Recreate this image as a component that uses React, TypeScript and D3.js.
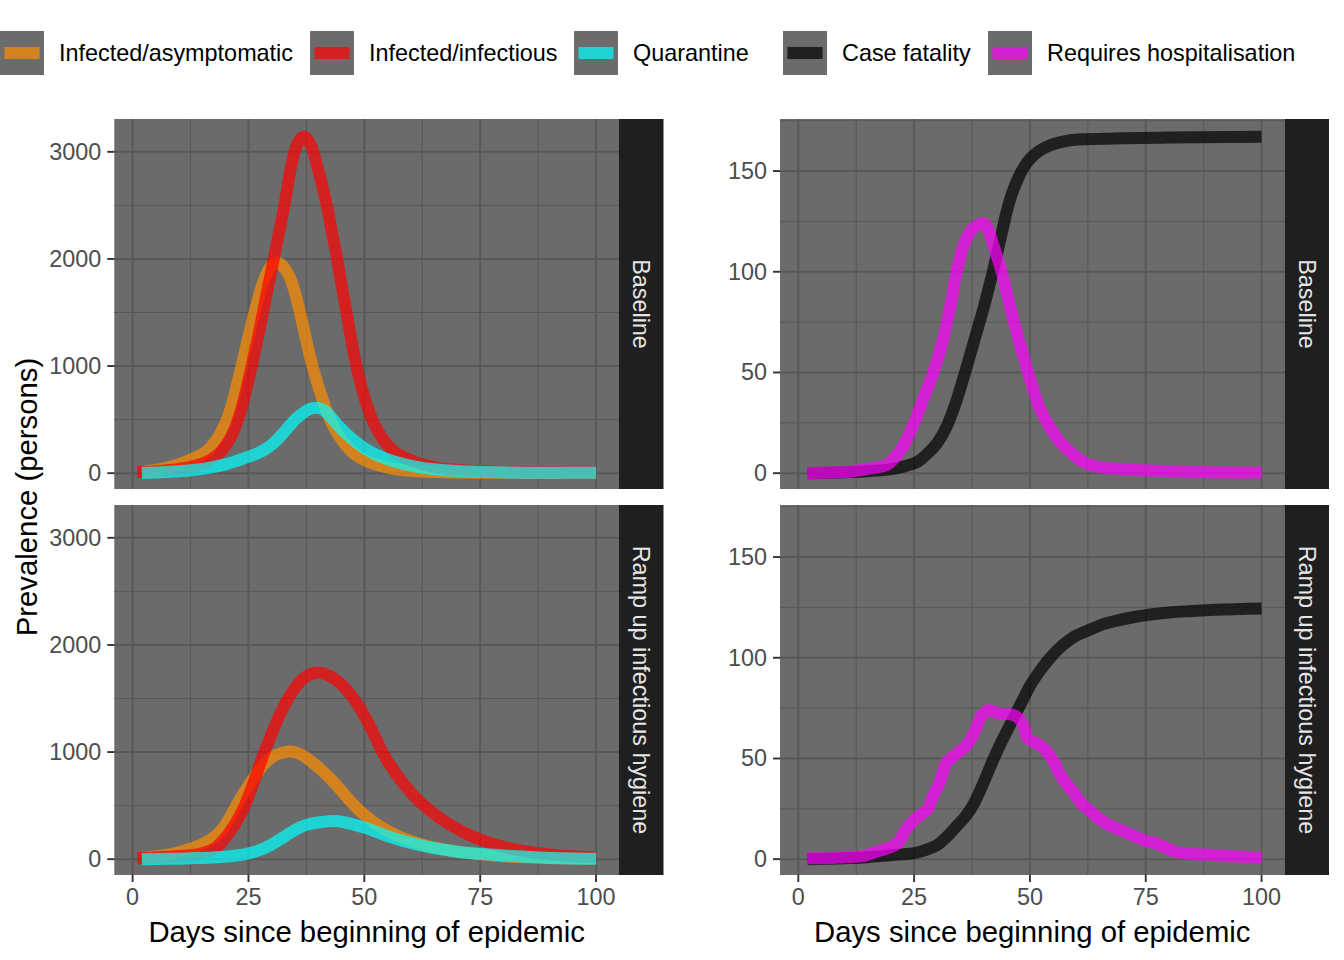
import React from "react";
import * as d3 from "d3";

// ---------- data ----------
const scenarios = ["Baseline", "Ramp up infectious hygiene"];
const leftSeries = ["Infected/asymptomatic", "Infected/infectious", "Quarantine"];
const rightSeries = ["Case fatality", "Requires hospitalisation"];
const xTicks = [0, 25, 50, 75, 100];
const leftYTicks = [0, 1000, 2000, 3000];
const rightYTicks = [0, 50, 100, 150];
const dayRange = [1, 100];

type Pt = [number, number];

// Baseline
const baseAsym: Pt[] = [[2,12],[5,30],[8,58],[10,85],[12,118],[14,155],[16,205],[18,305],[20,465],[21,580],[22,730],[23,910],[24,1090],[25,1270],[26,1450],[27,1610],[28,1760],[29,1870],[30,1940],[31,1965],[32,1950],[33,1900],[34,1820],[35,1690],[36,1520],[37,1330],[38,1140],[39,970],[40,820],[41,690],[42,565],[43,465],[44,385],[46,260],[48,175],[50,122],[52,88],[55,52],[60,22],[70,6],[80,3],[100,2]];
const baseInf: Pt[] = [[1,10],[4,15],[8,30],[12,55],[15,90],[17,130],[19,200],[21,320],[23,530],[25,870],[26,1060],[27,1260],[28,1470],[29,1690],[30,1900],[31,2120],[32,2330],[33,2560],[34,2820],[35,3010],[36,3110],[37,3140],[38,3100],[39,3000],[40,2840],[41,2670],[42,2480],[43,2250],[44,2030],[45,1780],[46,1540],[47,1290],[48,1060],[49,870],[50,710],[51,580],[52,470],[54,320],[56,220],[58,160],[60,120],[62,90],[66,50],[70,30],[80,12],[90,8],[100,6]];
const baseQuar: Pt[] = [[2,2],[6,8],[10,18],[14,35],[17,55],[20,82],[22,108],[24,138],[26,168],[28,208],[30,265],[32,350],[34,450],[35,498],[37,568],[38,595],[39,607],[40,608],[41,596],[42,560],[43,512],[45,415],[47,333],[49,265],[51,208],[54,147],[57,102],[61,62],[65,37],[70,20],[80,8],[100,4]];
const baseFatal: Pt[] = [[2,0],[10,0.5],[15,1],[20,2],[23,3.5],[26,6],[28,10],[30,15],[32,23],[34,35],[36,50],[37,58],[38,66],[39,74],[40,82],[41,91],[42,100],[43,110],[44,120],[45,130],[46,138],[47,144],[48,149],[49,153],[50,156],[52,160],[54,162.5],[56,164],[58,165],[62,165.8],[70,166.3],[80,166.6],[100,167]];
const baseHosp: Pt[] = [[2,0],[8,0.5],[12,1],[16,2.5],[19,4],[21,8],[23,15],[25,25],[27,37],[29,49],[31,64],[33,85],[34,98],[36,115],[38,122],[40,124],[41,121],[42,114],[44,99],[46,80],[48,63],[50,47],[52,33],[54,24],[56,17],[58,12],[60,8],[62,5],[65,3],[70,2],[80,1],[90,0.5],[100,0.3]];

// Ramp up infectious hygiene
const rampAsym: Pt[] = [[2,8],[5,25],[9,55],[12,90],[15,140],[18,220],[20,320],[22,470],[24,620],[26,750],[28,870],[30,950],[32,990],[34,1005],[36,985],[38,930],[40,860],[42,780],[44,690],[46,590],[48,495],[50,415],[52,345],[55,265],[58,203],[62,142],[66,100],[70,70],[75,45],[80,28],[90,12],[100,6]];
const rampInf: Pt[] = [[1,8],[5,15],[10,30],[13,40],[15,55],[18,110],[20,200],[22,320],[24,480],[26,700],[28,950],[30,1170],[32,1370],[34,1530],[36,1650],[38,1720],[40,1742],[42,1720],[44,1670],[46,1590],[48,1480],[50,1340],[52,1170],[53,1080],[54,990],[56,850],[58,730],[60,625],[62,535],[65,425],[68,335],[71,260],[74,200],[78,140],[82,95],[86,65],[90,45],[95,28],[100,18]];
const rampQuar: Pt[] = [[2,0],[8,3],[14,10],[18,18],[21,28],[24,45],[26,65],[28,95],[30,138],[32,190],[34,245],[36,295],[38,326],[40,342],[42,353],[44,356],[46,342],[48,320],[50,295],[52,265],[55,215],[58,175],[62,130],[66,96],[70,70],[75,50],[80,35],[85,22],[90,12],[95,6],[100,3]];
const rampFatal: Pt[] = [[2,0],[10,0.5],[15,1],[20,2],[25,3],[28,5],[30,7],[32,11],[34,16],[36,21],[38,28],[40,38],[42,49],[44,59],[46,68],[48,77],[50,86],[52,93],[54,99],[56,104],[58,108],[60,111],[62,113],[65,116],[68,118],[72,120],[76,121.5],[80,122.5],[85,123.2],[90,123.8],[100,124.5]];
const rampHosp: Pt[] = [[2,0.5],[6,0.5],[10,1],[14,1.5],[16,3],[18,4.5],[20,6],[21.5,8],[23,14],[25,19.5],[27,23],[28,25],[29,31],[30.5,38],[32,48],[33.5,51],[35,54],[36.5,57],[38,63],[39.5,71],[41,74],[42.5,73],[44,72],[45.5,72],[47,71],[48.5,67],[49.5,60],[51,58],[53,55],[55,49],[56.5,42],[58,37],[59.5,33],[61,28],[63,24],[65,20],[67,17],[69,15],[71,13],[73,11],[75,9],[77,8],[79,6],[81,4],[83,3],[86,2.5],[90,2],[94,1.5],[100,0.5]];

const leftData: Pt[][][] = [
  [baseAsym, baseInf, baseQuar],
  [rampAsym, rampInf, rampQuar],
];
const rightData: Pt[][][] = [
  [baseFatal, baseHosp],
  [rampFatal, rampHosp],
];

// ---------- style ----------
const seriesColor: Record<string, string> = {
  "Infected/asymptomatic": "#ff8c00",
  "Infected/infectious": "#ff0000",
  Quarantine: "#00ffff",
  "Case fatality": "#000000",
  "Requires hospitalisation": "#ff00ff",
};
const FONT = "'Liberation Sans', Arial, Helvetica, sans-serif";
const PANEL_BG = "#6b6b6b";
const GRID = "#585858";
const STRIP_BG = "#1f1f1f";
const LINE_W = 12;
const ALPHA = 0.7;
const BASE = 29.3;
const SMALL = 23.4;

const colL = { x0: 114.3, x1: 619, s1: 663.5 };
const colR = { x0: 780, x1: 1284.5, s1: 1329 };
const rows = [
  { y0: 119, y1: 489 },
  { y0: 505, y1: 875 },
];

function expand(lo: number, hi: number): [number, number] {
  const e = (hi - lo) * 0.05;
  return [lo - e, hi + e];
}

function minorOf(ticks: number[], dom: [number, number]) {
  const step = ticks[1] - ticks[0];
  const all = [ticks[0] - step / 2, ...ticks.map((t) => t + step / 2)];
  return all.filter((v) => v >= dom[0] && v <= dom[1]);
}

type Col = { x0: number; x1: number; s1: number };
type Row = { y0: number; y1: number };

function Panel(props: {
  col: Col;
  row: Row;
  xDom: [number, number];
  yDom: [number, number];
  yTicks: number[];
  names: string[];
  data: Pt[][];
  strip: string;
  showX: boolean;
}) {
  const { col, row, xDom, yDom, yTicks, names, data, strip, showX } = props;
  const x = d3.scaleLinear().domain(xDom).range([col.x0, col.x1]);
  const y = d3.scaleLinear().domain(yDom).range([row.y1 + 1, row.y0 + 1]);
  const xMinor = minorOf(xTicks, xDom);
  const yMinor = minorOf(yTicks, yDom);
  const smooth = d3
    .line<Pt>()
    .x((d) => x(d[0]))
    .y((d) => y(d[1]))
    .curve(d3.curveCatmullRom.alpha(0.5));
  const mono = d3
    .line<Pt>()
    .x((d) => x(d[0]))
    .y((d) => y(d[1]))
    .curve(d3.curveMonotoneX);
  const sx = (col.x1 + col.s1) / 2;
  const sy = (row.y0 + row.y1) / 2;
  return (
    <g>
      <rect x={col.x0} y={row.y0} width={col.x1 - col.x0} height={row.y1 - row.y0} fill={PANEL_BG} />
      {yMinor.map((v) => (
        <line key={"ym" + v} x1={col.x0} x2={col.x1} y1={y(v)} y2={y(v)} stroke={GRID} strokeWidth={1} />
      ))}
      {xMinor.map((v) => (
        <line key={"xm" + v} y1={row.y0} y2={row.y1} x1={x(v)} x2={x(v)} stroke={GRID} strokeWidth={1} />
      ))}
      {yTicks.map((v) => (
        <line key={"yM" + v} x1={col.x0} x2={col.x1} y1={y(v)} y2={y(v)} stroke={GRID} strokeWidth={1.9} />
      ))}
      {xTicks.map((v) => (
        <line key={"xM" + v} y1={row.y0} y2={row.y1} x1={x(v)} x2={x(v)} stroke={GRID} strokeWidth={1.9} />
      ))}
      {data.map((d, i) => (
        <path
          key={names[i]}
          d={(names[i] === "Case fatality" ? mono(d) : smooth(d)) || ""}
          fill="none"
          stroke={seriesColor[names[i]]}
          strokeOpacity={ALPHA}
          strokeWidth={LINE_W}
          strokeLinejoin="round"
          strokeLinecap="butt"
        />
      ))}
      <rect x={col.x1} y={row.y0} width={col.s1 - col.x1} height={row.y1 - row.y0} fill={STRIP_BG} />
      <text
        x={sx}
        y={sy}
        transform={`rotate(90 ${sx} ${sy})`}
        textAnchor="middle"
        dominantBaseline="central"
        fill="#e5e5e5"
        fontSize={SMALL}
        fontFamily={FONT}
      >
        {strip}
      </text>
      {yTicks.map((v) => (
        <g key={"yt" + v}>
          <line x1={col.x0 - 7} x2={col.x0} y1={y(v)} y2={y(v)} stroke="#333333" strokeWidth={1.9} />
          <text
            x={col.x0 - 13}
            y={y(v)}
            textAnchor="end"
            dominantBaseline="central"
            fill="#4d4d4d"
            fontSize={SMALL}
            fontFamily={FONT}
          >
            {v}
          </text>
        </g>
      ))}
      {showX &&
        xTicks.map((v) => (
          <g key={"xt" + v}>
            <line x1={x(v)} x2={x(v)} y1={row.y1} y2={row.y1 + 7} stroke="#333333" strokeWidth={1.9} />
            <text
              x={x(v)}
              y={row.y1 + 22}
              textAnchor="middle"
              dominantBaseline="central"
              fill="#4d4d4d"
              fontSize={SMALL}
              fontFamily={FONT}
            >
              {v}
            </text>
          </g>
        ))}
    </g>
  );
}

const legendNames = [...leftSeries, ...rightSeries];
const legendKeyX = [0, 310, 574, 783, 988];

export default function App() {
  const xDom = expand(dayRange[0], dayRange[1]);
  const leftMax = d3.max(leftData.flat(2), (d) => d[1]) as number;
  const rightMax = d3.max(rightData.flat(2), (d) => d[1]) as number;
  const leftYDom = expand(0, leftMax);
  const rightYDom = expand(0, rightMax);

  return (
    <svg
      width={1344}
      height={960}
      style={{ position: "absolute", left: 0, top: 0, background: "#ffffff" }}
      fontFamily={FONT}
    >
      <rect x={0} y={0} width={1344} height={960} fill="#ffffff" />
      {/* legend */}
      {legendNames.map((n, i) => (
        <g key={n}>
          <rect x={legendKeyX[i]} y={31} width={44} height={44} fill={PANEL_BG} />
          <line
            x1={legendKeyX[i] + 4.4}
            x2={legendKeyX[i] + 39.6}
            y1={53}
            y2={53}
            stroke={seriesColor[n]}
            strokeOpacity={ALPHA}
            strokeWidth={LINE_W}
          />
          <text
            x={legendKeyX[i] + 59}
            y={53}
            dominantBaseline="central"
            fontSize={SMALL}
            fill="#000000"
            fontFamily={FONT}
          >
            {n}
          </text>
        </g>
      ))}

      {rows.map((row, r) => (
        <Panel
          key={"L" + r}
          col={colL}
          row={row}
          xDom={xDom}
          yDom={leftYDom}
          yTicks={leftYTicks}
          names={leftSeries}
          data={leftData[r]}
          strip={scenarios[r]}
          showX={r === 1}
        />
      ))}
      {rows.map((row, r) => (
        <Panel
          key={"R" + r}
          col={colR}
          row={row}
          xDom={xDom}
          yDom={rightYDom}
          yTicks={rightYTicks}
          names={rightSeries}
          data={rightData[r]}
          strip={scenarios[r]}
          showX={r === 1}
        />
      ))}

      {/* axis titles */}
      <text
        x={26}
        y={(rows[0].y0 + rows[1].y1) / 2}
        transform={`rotate(-90 26 ${(rows[0].y0 + rows[1].y1) / 2})`}
        textAnchor="middle"
        dominantBaseline="central"
        fontSize={BASE}
        fill="#000000"
      >
        Prevalence (persons)
      </text>
      <text
        x={(colL.x0 + colL.x1) / 2}
        y={931}
        textAnchor="middle"
        dominantBaseline="central"
        fontSize={BASE}
        fill="#000000"
      >
        Days since beginning of epidemic
      </text>
      <text
        x={(colR.x0 + colR.x1) / 2}
        y={931}
        textAnchor="middle"
        dominantBaseline="central"
        fontSize={BASE}
        fill="#000000"
      >
        Days since beginning of epidemic
      </text>
    </svg>
  );
}
